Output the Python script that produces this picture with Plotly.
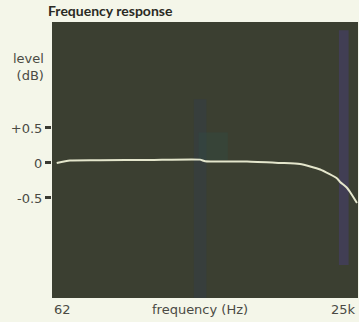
import numpy as np
import plotly.graph_objects as go

freq_hz = [68, 88, 159, 424, 1130, 1250, 2840, 5420, 8030, 11900, 16600, 17600, 20200, 21400, 24500]
level_db = [0.0, 0.036, 0.04, 0.043, 0.048, 0.024, 0.02, 0.0, -0.014, -0.093, -0.221, -0.271, -0.357, -0.414, -0.571]

y_ticks = [0.5, 0, -0.5]
y_labels = ['+0.5', '0', '-0.5']
x_end_labels = ['62', '25k']
x_end_vals = [62, 25000]

label_font = dict(family='DejaVu Sans, Verdana', size=13, color='#4a4a44')

fig = go.Figure()

# scanner streaks in the dark panel
fig.add_shape(type='rect', xref='x', yref='paper', x0=1000, x1=1280, y0=0.0, y1=0.72,
              fillcolor='#2f3a55', opacity=0.3, line_width=0, layer='below')
fig.add_shape(type='rect', xref='x', yref='paper', x0=1100, x1=1950, y0=0.5, y1=0.6,
              fillcolor='#2f5048', opacity=0.3, line_width=0, layer='below')
fig.add_shape(type='rect', xref='x', yref='paper', x0=17200, x1=20800, y0=0.12, y1=0.97,
              fillcolor='#4a3f8a', opacity=0.4, line_width=0, layer='below')

fig.add_trace(go.Scatter(
    x=freq_hz, y=level_db, mode='lines',
    line=dict(color='#e4e6cc', width=2, shape='spline', smoothing=0.5),
    hoverinfo='skip', showlegend=False
))

fig.update_xaxes(
    type='log', range=[np.log10(62), np.log10(25000)],
    showgrid=False, zeroline=False, showticklabels=False, ticks='',
    showline=False
)
fig.update_yaxes(
    range=[-1.929, 2.014], tickvals=y_ticks, ticktext=y_labels,
    showgrid=False, zeroline=False, ticks='outside', ticklen=6, tickwidth=3,
    tickcolor='#3a3a32', tickfont=label_font, showline=False
)

# end labels and axis titles
fig.add_annotation(x=np.log10(x_end_vals[0]), y=0, xref='x', yref='paper', yshift=-2, yanchor='top',
                   xanchor='left', text=x_end_labels[0], showarrow=False, font=label_font)
fig.add_annotation(x=np.log10(x_end_vals[1]), y=0, xref='x', yref='paper', yshift=-2, yanchor='top',
                   xanchor='right', text=x_end_labels[1], showarrow=False, font=label_font)
fig.add_annotation(x=0.485, y=0, xref='paper', yref='paper', yshift=-2, yanchor='top',
                   xanchor='center', text='frequency (Hz)', showarrow=False, font=label_font)
fig.add_annotation(x=0, y=1, xref='paper', yref='paper', xshift=-6, yshift=-27,
                   xanchor='right', yanchor='top', align='right', text='level<br>(dB)',
                   showarrow=False, font=label_font)

fig.update_layout(
    width=359, height=322,
    margin=dict(l=52, r=1, t=22, b=24),
    paper_bgcolor='#f4f6e9', plot_bgcolor='#3b3f31',
    title=dict(text='<b>Frequency response</b>', x=0, xref='paper', xanchor='left',
               y=1, yref='container', yanchor='top', pad=dict(t=6, l=-4),
               font=dict(family='Lato, Open Sans', size=14, color='#2a2a24')),
)

# drop the page's default body margin so the figure sits at the window's corner
post = ("document.body.style.margin='0';"
        "var gd=document.getElementById('{plot_id}');"
        "Plotly.relayout(gd,{width:359,height:322});")

fig.write_html('out.html', post_script=post, config={'displayModeBar': False})
